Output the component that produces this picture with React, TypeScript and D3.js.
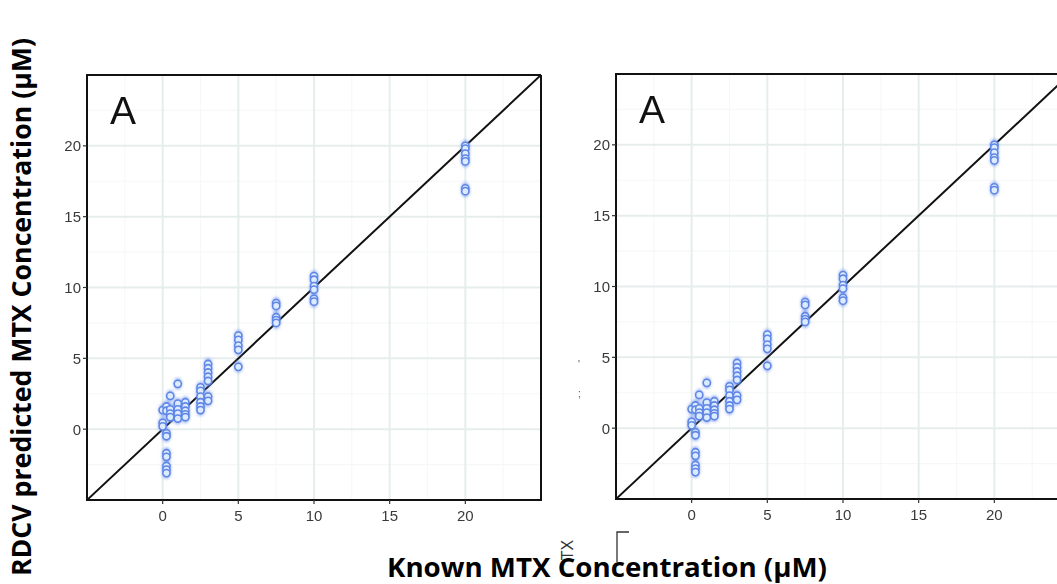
import React from "react";
import * as d3 from "d3";

const knownConc = [
  0, 0, 0,
  0.25, 0.25, 0.25, 0.25, 0.25, 0.25, 0.25, 0.25, 0.25,
  0.5, 0.5, 0.5, 0.5,
  1, 1, 1, 1, 1,
  1.5, 1.5, 1.5, 1.5, 1.5,
  2.5, 2.5, 2.5, 2.5, 2.5, 2.5,
  3, 3, 3, 3, 3, 3, 3,
  5, 5, 5, 5, 5,
  7.5, 7.5, 7.5, 7.5, 7.5,
  10, 10, 10, 10, 10, 10,
  20, 20, 20, 20, 20, 20, 20,
];
const predictedConc = [
  1.35, 0.45, 0.2,
  1.6, 1.3, -0.3, -0.5, -1.7, -1.95, -2.6, -2.85, -3.1,
  2.35, 1.4, 1.1, 0.85,
  3.2, 1.8, 1.4, 1.1, 0.75,
  1.9, 1.6, 1.3, 1.05, 0.85,
  2.95, 2.7, 2.3, 1.9, 1.6, 1.35,
  4.6, 4.3, 4.0, 3.7, 3.4, 2.3, 2.0,
  6.6, 6.3, 5.9, 5.6, 4.4,
  8.9, 8.7, 7.9, 7.7, 7.5,
  10.8, 10.55, 10.1, 9.85, 9.2, 9.0,
  20.0, 19.8, 19.45, 19.1, 18.9, 17.0, 16.8,
];
const axisTicks = [0, 5, 10, 15, 20];
const minorTicks = [-2.5, 2.5, 7.5, 12.5, 17.5, 22.5];
const panelLabel = "A";
const xTitle = "Known MTX Concentration (µM)";
const yTitle = "RDCV predicted MTX Concentration (µM)";

const W = 1057;
const H = 584;

type PanelProps = { left: number; top: number; bottom: number; id: string };

function Panel({ left, top, bottom, id }: PanelProps) {
  const pw = 454;
  const x = d3.scaleLinear().domain([-5, 25]).range([left, left + pw]);
  const y = d3.scaleLinear().domain([-5, 25]).range([bottom, top]);
  const right = left + pw;
  return (
    <g>
      <defs>
        <clipPath id={`clip-${id}`}>
          <rect x={left} y={top} width={pw} height={bottom - top} />
        </clipPath>
      </defs>
      <g clipPath={`url(#clip-${id})`}>
        {minorTicks.map((t) => (
          <g key={"m" + t}>
            <line x1={x(t)} x2={x(t)} y1={top} y2={bottom} stroke="#f6f8f8" strokeWidth={1.2} />
            <line x1={left} x2={right} y1={y(t)} y2={y(t)} stroke="#f6f8f8" strokeWidth={1.2} />
          </g>
        ))}
        {axisTicks.map((t) => (
          <g key={"g" + t}>
            <line x1={x(t)} x2={x(t)} y1={top} y2={bottom} stroke="#e6eded" strokeWidth={2} />
            <line x1={left} x2={right} y1={y(t)} y2={y(t)} stroke="#e6eded" strokeWidth={2} />
          </g>
        ))}
        <line x1={x(-5)} y1={y(-5)} x2={x(25)} y2={y(25)} stroke="#111" strokeWidth={2} />
        <g filter="url(#glow)">
          {knownConc.map((k, i) => (
            <ellipse key={"b" + i} cx={x(k)} cy={y(predictedConc[i])} rx={4.2} ry={6}
              fill="#7396ec" opacity={0.7} />
          ))}
        </g>
        {knownConc.map((k, i) => (
          <circle key={"p" + i} cx={x(k)} cy={y(predictedConc[i])} r={3.6}
            fill="#dcebff" stroke="#5f86e6" strokeWidth={1.6} />
        ))}
      </g>
      <path d={`M${right},${top} L${left},${top} L${left},${bottom} L${right},${bottom} L${right},${top}`}
        fill="none" stroke="#111" strokeWidth={2} />
      {axisTicks.map((t) => (
        <g key={"t" + t}>
          <line x1={left - 4} x2={left} y1={y(t)} y2={y(t)} stroke="#333" strokeWidth={1.2} />
          <text x={left - 6} y={y(t)} dy="0.36em" textAnchor="end" fontSize={15}
            fontFamily="Liberation Sans, Arial, sans-serif" fill="#3a3a3a">{t}</text>
          <line x1={x(t)} x2={x(t)} y1={bottom} y2={bottom + 4} stroke="#333" strokeWidth={1.2} />
          <text x={x(t)} y={bottom + 21} textAnchor="middle" fontSize={15}
            fontFamily="Liberation Sans, Arial, sans-serif" fill="#3a3a3a">{t}</text>
        </g>
      ))}
      <text x={left + 23} y={top + 49} fontSize={39} fontFamily="Liberation Sans, Arial, sans-serif"
        fill="#111">{panelLabel}</text>
    </g>
  );
}

export default function App() {
  return (
    <svg width={W} height={H} style={{ position: "absolute", left: 0, top: 0, background: "#fff" }}>
      <defs>
        <filter id="glow" x="-50%" y="-50%" width="200%" height="200%">
          <feGaussianBlur stdDeviation="1.8" />
        </filter>
      </defs>
      <rect width={W} height={H} fill="#fff" />
      <Panel left={87} top={75} bottom={500} id="a" />
      <Panel left={616} top={74} bottom={499} id="b" />
      <text transform="translate(31,307) rotate(-90)" textAnchor="middle" fontSize={26}
        fontWeight="bold" fontFamily="Open Sans, sans-serif" fill="#000"
        textLength={538} lengthAdjust="spacingAndGlyphs">{yTitle}</text>
      <text x={607} y={577} textAnchor="middle" fontSize={26} fontWeight="bold"
        fontFamily="Open Sans, sans-serif" fill="#000" textLength={440}
        lengthAdjust="spacingAndGlyphs">{xTitle}</text>
      <text transform="translate(573,550) rotate(-90)" textAnchor="middle" fontSize={16}
        fontFamily="Liberation Sans, Arial, sans-serif" fill="#333">TX</text>
      <path d="M617,562 L617,532 L629,532" fill="none" stroke="#333" strokeWidth={1.3} />
      <text x={578} y={368} fontSize={10} fill="#555" fontFamily="Liberation Sans, sans-serif">'</text>
      <text x={578} y={397} fontSize={10} fill="#555" fontFamily="Liberation Sans, sans-serif">;</text>
    </svg>
  );
}
